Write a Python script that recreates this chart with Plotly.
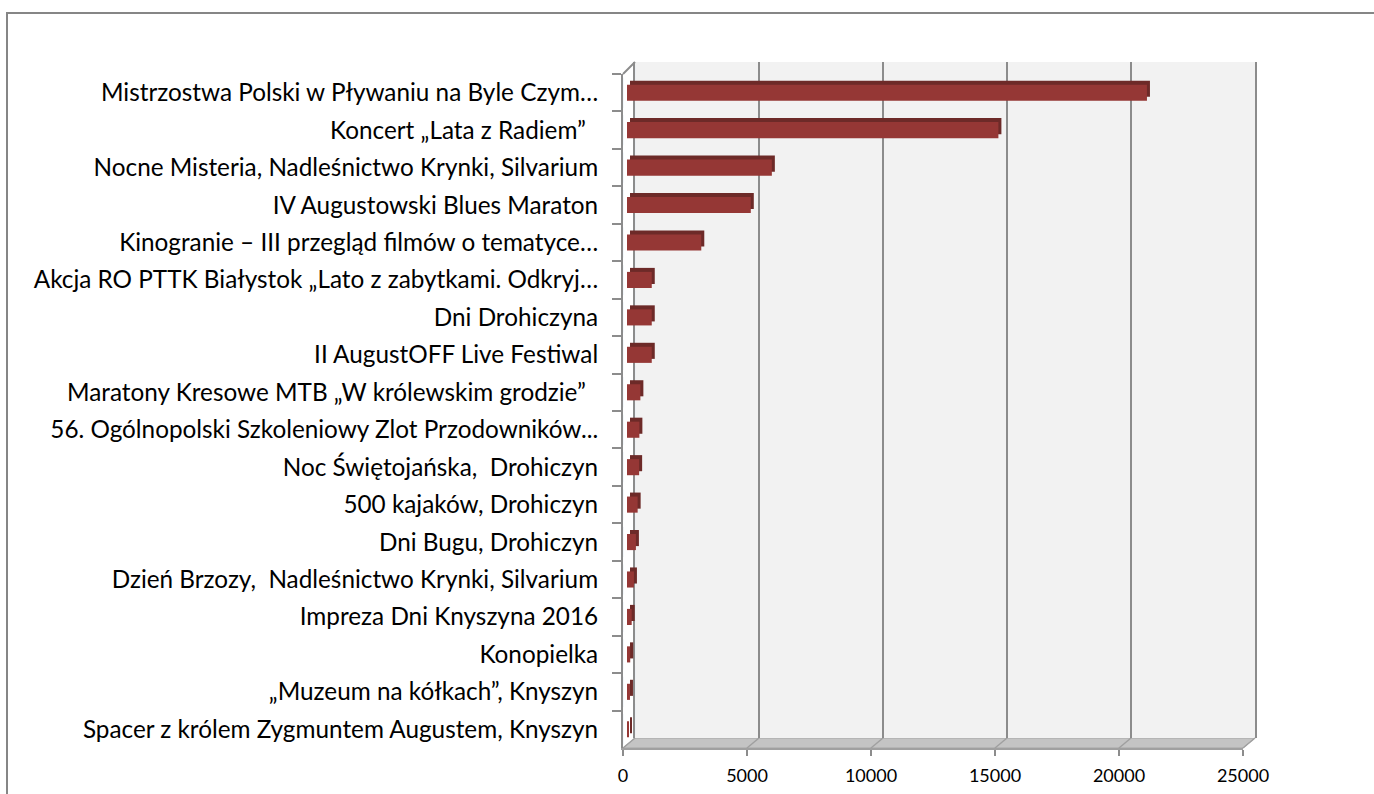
import plotly.graph_objects as go

# ---------------- data ----------------
categories = [
    "Mistrzostwa Polski w Pływaniu na Byle Czym…",
    "Koncert „Lata z Radiem”\u00a0\u00a0",
    "Nocne Misteria, Nadleśnictwo Krynki, Silvarium",
    "IV Augustowski Blues Maraton",
    "Kinogranie – III przegląd filmów o tematyce…",
    "Akcja RO PTTK Białystok „Lato z zabytkami. Odkryj…",
    "Dni Drohiczyna",
    "II AugustOFF Live Festiwal",
    "Maratony Kresowe MTB „W królewskim grodzie”\u00a0\u00a0",
    "56. Ogólnopolski Szkoleniowy Zlot Przodowników...",
    "Noc Świętojańska,  Drohiczyn",
    "500 kajaków, Drohiczyn",
    "Dni Bugu, Drohiczyn",
    "Dzień Brzozy,  Nadleśnictwo Krynki, Silvarium",
    "Impreza Dni Knyszyna 2016",
    "Konopielka",
    "„Muzeum na kółkach”, Knyszyn",
    "Spacer z królem Zygmuntem Augustem, Knyszyn",
]
values = [21000, 15000, 5850, 5000, 3000, 1000, 1000, 1000, 540, 500,
          490, 430, 360, 280, 190, 130, 120, 70]
x_ticks = [0, 5000, 10000, 15000, 20000, 25000]
x_max = 25000

# ---------------- layout helpers ----------------
W, H = 1374, 794
def px(x):
    return x / W
def py(y):
    return 1 - y / H

GRID = "#8c8c8c"
FRONT = "#953735"
DEPTH = "#6d2a28"
FONT = "Lato, Carlito, 'Open Sans', sans-serif"

fig = go.Figure()

# back wall subplot (x, y) – only gridlines
fig.add_trace(go.Bar(x=[0] * len(categories), y=categories, orientation="h",
                     xaxis="x", yaxis="y", marker_color="rgba(0,0,0,0)",
                     showlegend=False, hoverinfo="skip"))
# depth faces of the 3D bars (x2, y2)
fig.add_trace(go.Bar(x=values, y=categories, orientation="h", width=0.43,
                     xaxis="x2", yaxis="y2", marker_color=DEPTH,
                     marker_line_width=0, showlegend=False, hoverinfo="skip"))
# front faces (x3, y3)
fig.add_trace(go.Bar(x=values, y=categories, orientation="h", width=0.43,
                     xaxis="x3", yaxis="y3", marker_color=FRONT,
                     marker_line_width=0, showlegend=False))
# axis with labels (x4, y4)
fig.add_trace(go.Bar(x=[0] * len(categories), y=categories, orientation="h",
                     xaxis="x4", yaxis="y4", marker_color="rgba(0,0,0,0)",
                     showlegend=False, hoverinfo="skip"))

cat_axis = dict(type="category", categoryorder="array", categoryarray=categories,
                autorange="reversed", automargin=False)

shapes = []
# floor
shapes.append(dict(type="path", xref="paper", yref="paper", layer="below",
                   path=f"M {px(623)},{py(748)} L {px(1243)},{py(748)} "
                        f"L {px(1255)},{py(738)} L {px(635)},{py(738)} Z",
                   fillcolor="#c4c4c4", line=dict(color="#a6a6a6", width=1)))
# back wall fill
shapes.append(dict(type="rect", xref="paper", yref="paper", layer="below",
                   x0=px(635), x1=px(1255), y0=py(738), y1=py(62),
                   fillcolor="#f2f2f2", line=dict(width=0)))
# floor diagonals at each grid value
for v in x_ticks:
    xb = 635 + v / x_max * 620
    xf = 623 + v / x_max * 620
    shapes.append(dict(type="line", xref="paper", yref="paper", layer="below",
                       x0=px(xb), y0=py(738), x1=px(xf), y1=py(748),
                       line=dict(color="#a0a0a0", width=1.5)))
# left wall top diagonal
shapes.append(dict(type="line", xref="paper", yref="paper",
                   x0=px(623), y0=py(74), x1=px(635), y1=py(62),
                   line=dict(color=GRID, width=2)))
# outer chart border
shapes.append(dict(type="rect", xref="paper", yref="paper",
                   x0=px(7), y0=py(13), x1=px(1400), y1=py(820),
                   line=dict(color="#868686", width=2), fillcolor="rgba(0,0,0,0)"))

fig.update_layout(
    width=W, height=H,
    margin=dict(l=0, r=0, t=0, b=0, pad=0, autoexpand=False),
    paper_bgcolor="white", plot_bgcolor="rgba(0,0,0,0)",
    barmode="overlay",
    showlegend=False,
    font=dict(family=FONT, color="black"),
    shapes=shapes,
    xaxis=dict(domain=[px(635), px(1255)], range=[0, x_max], tickvals=x_ticks,
               showgrid=True, gridcolor=GRID, gridwidth=2, showticklabels=False,
               zeroline=False, showline=False, ticks="", anchor="y", automargin=False),
    yaxis=dict(domain=[py(738), py(62)], showline=True, mirror=True, linecolor=GRID,
               linewidth=2, showgrid=False, showticklabels=False, ticks="",
               anchor="x", **cat_axis),
    xaxis2=dict(domain=[px(630), px(1249)], range=[0, x_max], visible=False,
                anchor="y2", automargin=False),
    yaxis2=dict(domain=[py(744), py(70)], visible=False, anchor="x2", **cat_axis),
    xaxis3=dict(domain=[px(627), px(1246)], range=[0, x_max], visible=False,
                anchor="y3", automargin=False),
    yaxis3=dict(domain=[py(748), py(74)], visible=False, anchor="x3", **cat_axis),
    xaxis4=dict(domain=[px(623), px(1243)], range=[0, x_max], tickvals=x_ticks,
                ticktext=[str(t) for t in x_ticks],
                ticks="outside", ticklen=6, tickcolor=GRID, tickwidth=1.5,
                showline=True, linecolor="#a0a0a0", linewidth=1.5, showgrid=False,
                zeroline=False, tickfont=dict(size=18, family=FONT, color="black"),
                ticklabelstandoff=5, anchor="y4", automargin=False),
    yaxis4=dict(domain=[py(748), py(74)], showline=True, linecolor=GRID, linewidth=2,
                ticks="outside", ticklen=9, tickcolor=GRID, tickwidth=2,
                tickson="boundaries", showgrid=False,
                tickfont=dict(size=24.3, family=FONT, color="black"),
                ticklabelstandoff=18, anchor="x4", **cat_axis),
)

fig.write_html("out.html",
               config={"displayModeBar": False},
               post_script="document.body.style.margin='0';document.body.style.overflow='hidden';")
